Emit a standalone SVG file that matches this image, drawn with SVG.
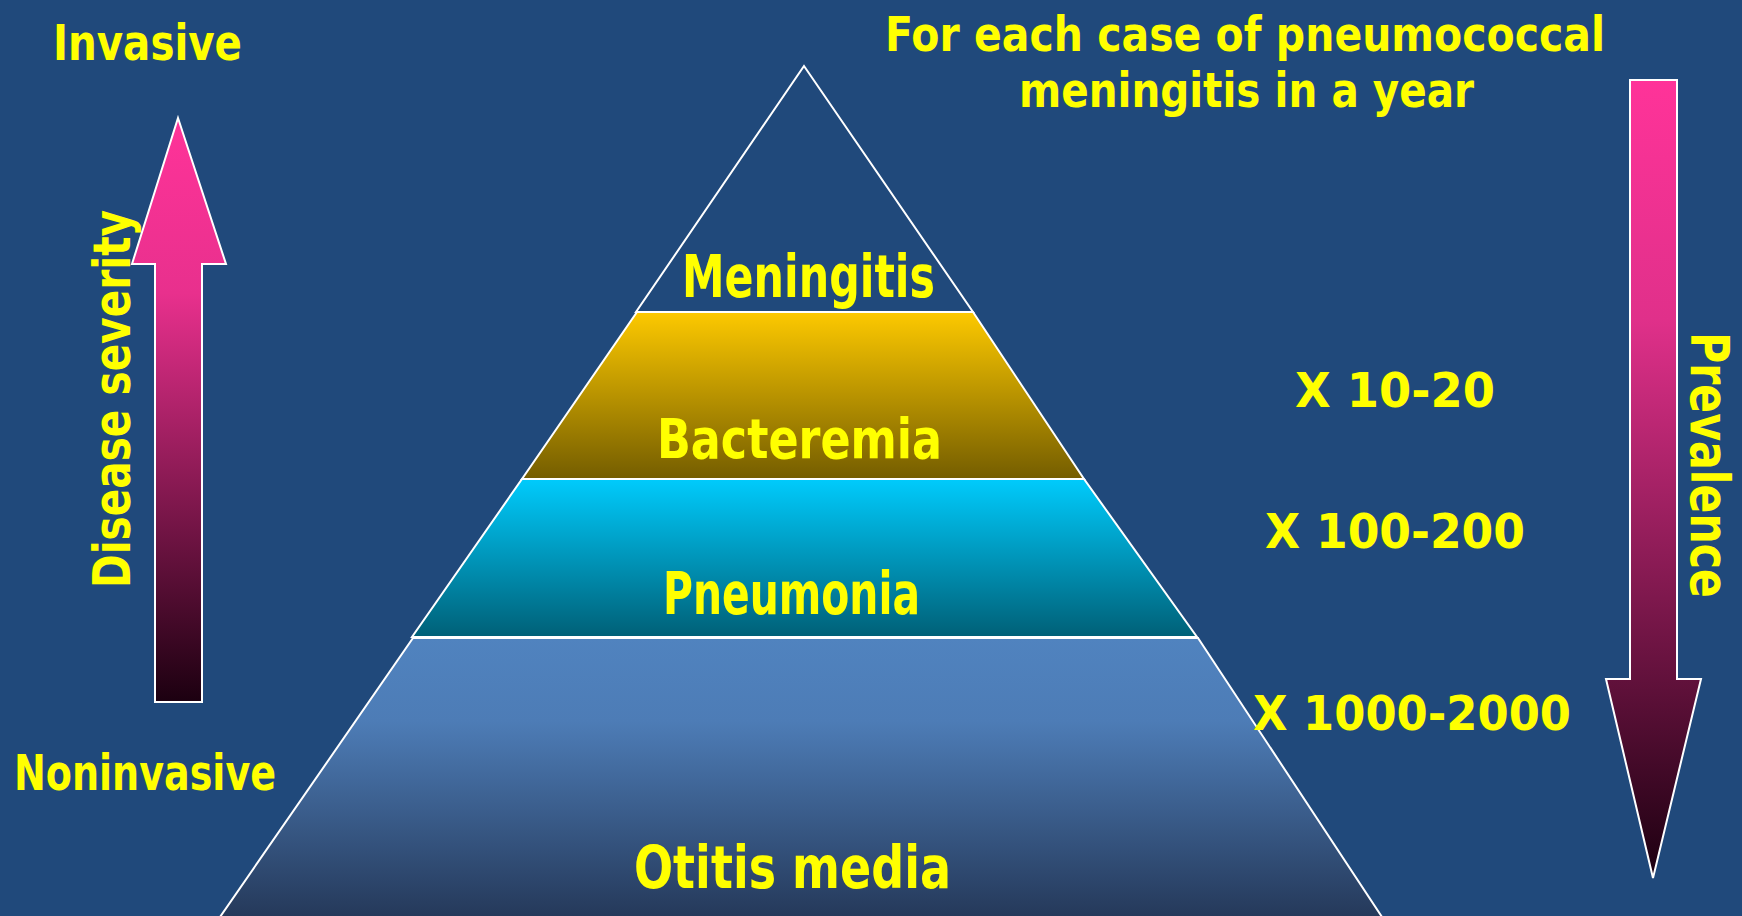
<svg xmlns="http://www.w3.org/2000/svg" width="1742" height="916" viewBox="0 0 1742 916">
<style>
.t{font-family:"DejaVu Sans","Liberation Sans",sans-serif;font-weight:bold;fill:#ffff00;}
.band{stroke:#ffffff;stroke-width:2;stroke-linejoin:miter;}
.arrow{stroke:#ffffff;stroke-width:2;}
</style>
<defs>
<linearGradient id="gBac" x1="0" y1="0" x2="0" y2="1">
<stop offset="0" stop-color="#fdc900"/>
<stop offset="1" stop-color="#745d00"/>
</linearGradient>
<linearGradient id="gPne" x1="0" y1="0" x2="0" y2="1">
<stop offset="0" stop-color="#00cbfc"/>
<stop offset="1" stop-color="#006077"/>
</linearGradient>
<linearGradient id="gOti" x1="0" y1="0" x2="0" y2="1">
<stop offset="0" stop-color="#5083bf"/>
<stop offset="0.3" stop-color="#4d7cb6"/>
<stop offset="1" stop-color="#25395a"/>
</linearGradient>
<linearGradient id="gUp" x1="0" y1="0" x2="0" y2="1">
<stop offset="0" stop-color="#ff3399"/>
<stop offset="0.3" stop-color="#e8308d"/>
<stop offset="1" stop-color="#1c0010"/>
</linearGradient>
<linearGradient id="gDown" x1="0" y1="0" x2="0" y2="1">
<stop offset="0" stop-color="#ff3399"/>
<stop offset="0.3" stop-color="#e0308a"/>
<stop offset="1" stop-color="#1c0010"/>
</linearGradient>
</defs>
<rect x="0" y="0" width="1742" height="916" fill="#20497b"/>

<g id="severity-arrow">
<polygon class="arrow" fill="url(#gUp)" points="178,118 226,264 202,264 202,702 155,702 155,264 132,264"/>
</g>
<g id="prevalence-arrow">
<polygon class="arrow" fill="url(#gDown)" points="1630,80 1677,80 1677,679 1701,679 1653,878 1606,679 1630,679"/>
</g>

<g id="meningitis">
<polygon class="band" fill="none" points="804,66 973,312 636,312"/>
<text class="t" x="682" y="297" font-size="58" textLength="253" lengthAdjust="spacingAndGlyphs">Meningitis</text>
</g>
<g id="bacteremia">
<polygon class="band" fill="url(#gBac)" points="637,312 973,312 1084,479 522,479"/>
<text class="t" x="657" y="458" font-size="56" textLength="285" lengthAdjust="spacingAndGlyphs">Bacteremia</text>
</g>
<g id="pneumonia">
<polygon class="band" fill="url(#gPne)" points="522,479 1084,479 1197,637 412,637"/>
<text class="t" x="663" y="614" font-size="58" textLength="257" lengthAdjust="spacingAndGlyphs">Pneumonia</text>
</g>
<g id="otitis-media">
<polygon class="band" fill="url(#gOti)" points="413,638 1198,638 1382,917 220,917"/>
<text class="t" x="634" y="888" font-size="58" textLength="317" lengthAdjust="spacingAndGlyphs">Otitis media</text>
</g>

<g id="labels">
<text class="t" x="53" y="60" font-size="49" textLength="189" lengthAdjust="spacingAndGlyphs">Invasive</text>
<text class="t" x="14" y="790" font-size="49" textLength="262" lengthAdjust="spacingAndGlyphs">Noninvasive</text>
<text class="t" font-size="51" transform="translate(130,588) rotate(-90)" textLength="378" lengthAdjust="spacingAndGlyphs">Disease severity</text>
<text class="t" font-size="54" transform="translate(1691,332) rotate(90)" textLength="266" lengthAdjust="spacingAndGlyphs">Prevalence</text>
<text class="t" x="885" y="51" font-size="48" textLength="720" lengthAdjust="spacingAndGlyphs">For each case of pneumococcal</text>
<text class="t" x="1019" y="107" font-size="48" textLength="455" lengthAdjust="spacingAndGlyphs">meningitis in a year</text>
<text class="t" x="1295" y="407" font-size="48" textLength="200" lengthAdjust="spacingAndGlyphs">X 10-20</text>
<text class="t" x="1265" y="548" font-size="48" textLength="260" lengthAdjust="spacingAndGlyphs">X 100-200</text>
<text class="t" x="1253" y="730" font-size="48" textLength="318" lengthAdjust="spacingAndGlyphs">X 1000-2000</text>
</g>
</svg>
